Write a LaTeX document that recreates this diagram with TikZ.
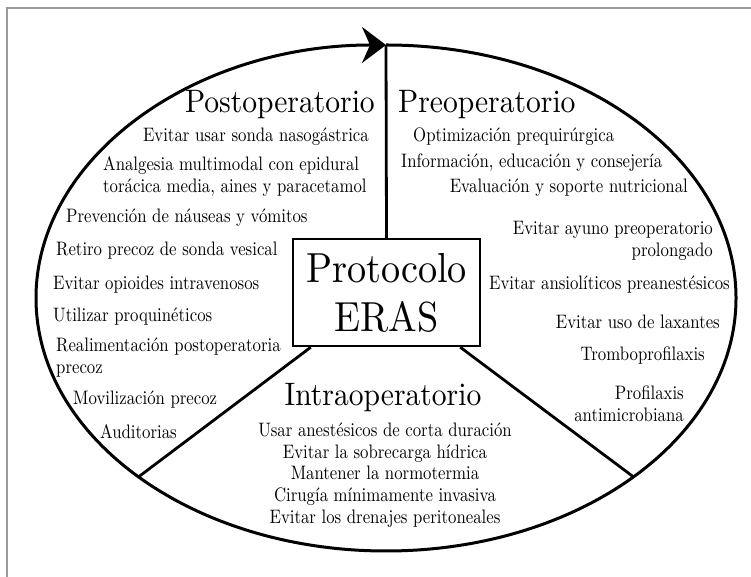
\documentclass[tikz,border=0pt]{standalone}
\usepackage{fontspec}
\setmainfont{lmroman10-regular.otf}[FakeStretch=0.91]
\newfontfamily\itemfont{lmroman10-regular.otf}[FakeStretch=0.86]
\usetikzlibrary{arrows.meta,calc}
\tikzset{
  item/.style={inner sep=0pt, font=\itemfont\fontsize{19.5}{22}\selectfont},
  head/.style={inner sep=0pt, font=\fontsize{32.5}{36}\selectfont},
  divider/.style={line width=2.8pt, black},
}
\begin{document}
\begin{tikzpicture}[x=1pt,y=1pt]
\useasboundingbox (0,0) rectangle (751,577);
% outer frame (cropped)
\draw[gray!80, line width=1.6pt] (751,569) -- (7,569) -- (7,0);
% ellipse center
\coordinate (c) at (386,279);
\coordinate (top) at ($(c)+(90:350pt and 253pt)$);
\coordinate (bl) at ($(c)+(225:350pt and 253pt)$);
\coordinate (br) at ($(c)+(-45:350pt and 253pt)$);
% central box
\node[draw, line width=2.4pt, minimum width=187pt, minimum height=107pt, inner sep=0pt,
      align=center, font=\fontsize{42}{49}\selectfont] (box) at (386.5,284.5) {Protocolo\\ERAS};
% dividers
\draw[divider] (box.north) -- (top);
\draw[divider] ($(box.south west)+(19pt,0)$) -- (bl);
\draw[divider] ($(box.south east)+(-21pt,0)$) -- (br);
% ellipse with arrow
\draw[line width=3pt, -{Stealth[length=24pt,width=36pt,inset=8pt]}]
  (top) arc[start angle=90, end angle=-270, x radius=350pt, y radius=253pt];
% headings
\node[head, anchor=base east] (post) at (375,464) {Postoperatorio};
\node[head, anchor=base west] (pre) at (398,464) {Preoperatorio};
\node[head, anchor=base] (intra) at (383,171) {Intraoperatorio};
% postoperatorio items
\node[item, anchor=east] (p1) at (369,440) {Evitar usar sonda nasogástrica};
\node[item, anchor=west, align=left] (p2) at (103,400) {Analgesia multimodal con epidural\\torácica media, aines y paracetamol};
\node[item, anchor=west] (p3) at (66,359) {Prevención de náuseas y vómitos};
\node[item, anchor=west] (p4) at (56,326) {Retiro precoz de sonda vesical};
\node[item, anchor=west] (p5) at (53,292) {Evitar opioides intravenosos};
\node[item, anchor=west] (p6) at (53,260) {Utilizar proquinéticos};
\node[item, anchor=west, align=left] (p7) at (56,219) {Realimentación postoperatoria\\precoz};
\node[item, anchor=west] (p8) at (73,177) {Movilización precoz};
\node[item, anchor=west] (p9) at (100,145) {Auditorias};
% preoperatorio items
\node[item, anchor=west] (r1) at (413,440) {Optimización prequirúrgica};
\node[item, anchor=west] (r2) at (401,414) {Información, educación y consejería};
\node[item, anchor=east] (r3) at (688,389) {Evaluación y soporte nutricional};
\node[item, anchor=east, align=right] (r4) at (713,336) {Evitar ayuno preoperatorio\\prolongado};
\node[item, anchor=east] (r5) at (730,292) {Evitar ansiolíticos preanestésicos};
\node[item, anchor=east] (r6) at (720,255) {Evitar uso de laxantes};
\node[item, anchor=east] (r7) at (705,221) {Tromboprofilaxis};
\node[item, anchor=east, align=right] (r8) at (684,173) {Profilaxis\\antimicrobiana};
% intraoperatorio items
\node[item, align=center, font=\itemfont\fontsize{19.5}{21.6}\selectfont] (i1) at (385,102)
  {Usar anestésicos de corta duración\\Evitar la sobrecarga hídrica\\Mantener la normotermia\\Cirugía mínimamente invasiva\\Evitar los drenajes peritoneales};
\end{tikzpicture}
\end{document}
